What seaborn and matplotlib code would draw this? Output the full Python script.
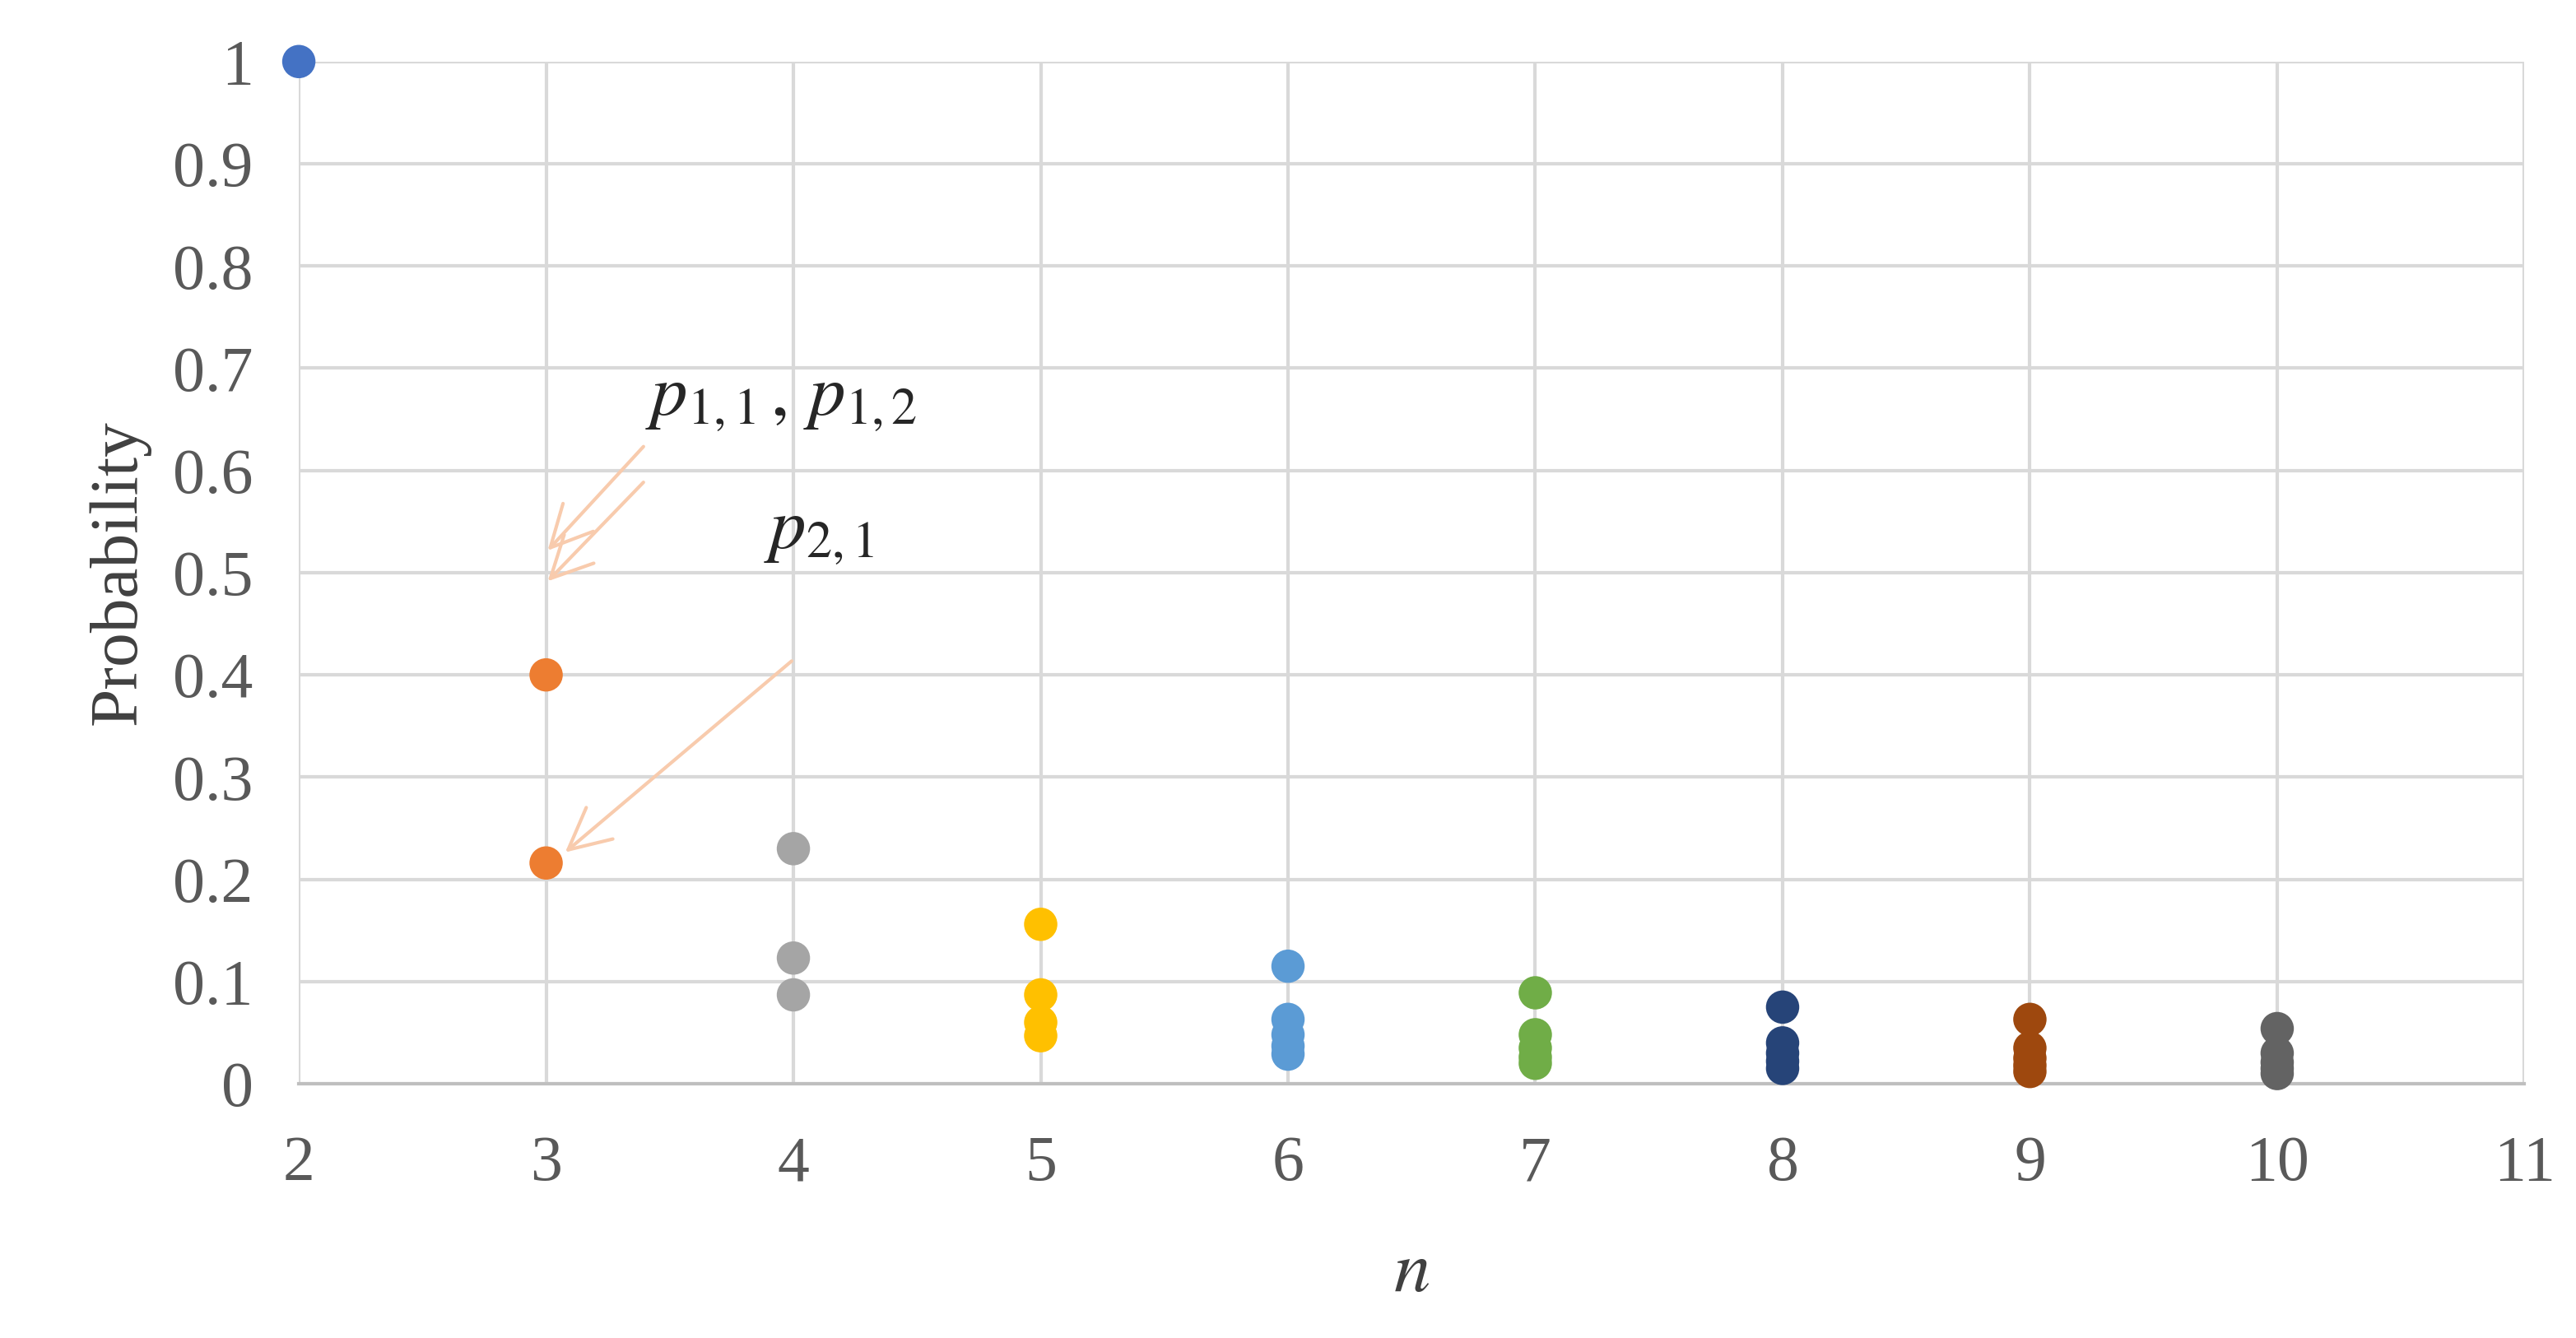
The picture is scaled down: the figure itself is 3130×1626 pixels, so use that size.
import matplotlib
matplotlib.use("Agg")
import matplotlib.pyplot as plt
import seaborn as sns
import pandas as pd

# values
n_vals = [2, 3, 3, 4, 4, 4, 5, 5, 5, 5, 6, 6, 6, 6, 6,
          7, 7, 7, 7, 7, 8, 8, 8, 8, 8, 9, 9, 9, 9, 9, 10, 10, 10, 10, 10]
probs = [1.0, 0.4, 0.216, 0.23, 0.123, 0.087, 0.156, 0.087, 0.06, 0.047,
         0.115, 0.063, 0.048, 0.037, 0.029,
         0.089, 0.048, 0.035, 0.026, 0.02,
         0.075, 0.04, 0.03, 0.022, 0.015,
         0.063, 0.035, 0.025, 0.018, 0.012,
         0.054, 0.03, 0.021, 0.015, 0.01]
colors = {2: "#4472C4", 3: "#ED7D31", 4: "#A5A5A5", 5: "#FFC000", 6: "#5B9BD5",
          7: "#70AD47", 8: "#264478", 9: "#9E480E", 10: "#636363"}

df = pd.DataFrame({"n": n_vals, "p": probs})

sns.set_style("white")
plt.rcParams["font.family"] = ["Liberation Serif", "DejaVu Serif"]
plt.rcParams["mathtext.fontset"] = "stix"

fig = plt.figure(figsize=(31.3, 16.26), dpi=100)
ax = fig.add_axes([0.116, 0.19, 0.864, 0.764])
sns.scatterplot(data=df, x="n", y="p", hue="n", palette=colors, s=850,
                linewidth=0, legend=False, ax=ax, zorder=3, clip_on=False)

ax.set_xlim(2, 11)
ax.set_ylim(0, 1)
ax.set_xticks(range(2, 12))
ax.set_yticks([i / 10 for i in range(11)])
ax.set_yticklabels(["0"] + [f"0.{i}" for i in range(1, 10)] + ["1"])
ax.grid(True, color="#D9D9D9", linewidth=3)
ax.set_axisbelow(True)
for s in ["top", "right", "left"]:
    ax.spines[s].set_visible(False)
ax.spines["bottom"].set_color("#BFBFBF")
ax.spines["bottom"].set_linewidth(3)
ax.tick_params(axis="both", length=0, labelsize=56, colors="#595959")
ax.tick_params(axis="x", pad=45)
ax.tick_params(axis="y", pad=40)
ax.set_xlabel("$n$", fontsize=64, labelpad=40, color="#404040")
ax.set_ylabel("Probability", fontsize=60, color="#404040", labelpad=20)

arrow = dict(arrowstyle="->", color="#F8CBAD", lw=3, mutation_scale=90)
ax.annotate("", xy=(3.0, 0.52), xytext=(3.4, 0.625), arrowprops=arrow)
ax.annotate("", xy=(3.0, 0.49), xytext=(3.4, 0.59), arrowprops=arrow)
ax.annotate("", xy=(3.07, 0.225), xytext=(4.0, 0.415), arrowprops=arrow)
ax.text(3.4, 0.655, r"$p_{1,1}\,,\,p_{1,2}$", fontsize=64)
ax.text(3.88, 0.525, r"$p_{2,1}$", fontsize=64)

fig.savefig("out.png", dpi=100)
